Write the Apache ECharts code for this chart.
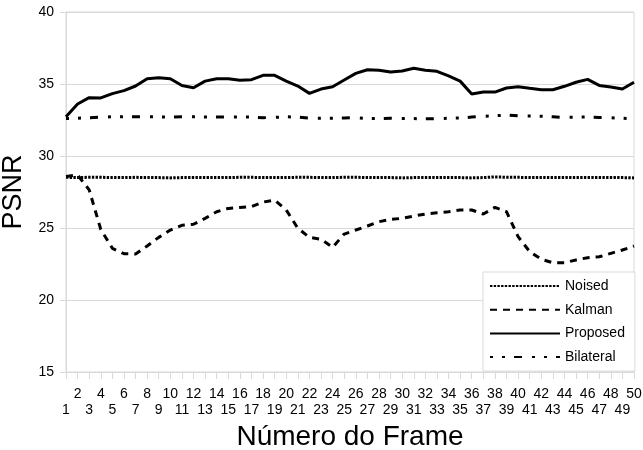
<!DOCTYPE html>
<html>
<head>
<meta charset="utf-8">
<script src="https://cdn.jsdelivr.net/npm/echarts@6/dist/echarts.min.js"></script>
<style>
  html, body { margin: 0; padding: 0; background: #fff; }
  #chart { width: 643px; height: 450px; }
</style>
</head>
<body>
<div id="chart"></div>
<script>
// Frame numbers along the x axis
const frames = ['1','2','3','4','5','6','7','8','9','10','11','12','13','14','15','16','17','18','19','20',
  '21','22','23','24','25','26','27','28','29','30','31','32','33','34','35','36','37','38','39','40',
  '41','42','43','44','45','46','47','48','49','50'];

// PSNR per frame for each method
const noised = [28.52, 28.5, 28.52, 28.52, 28.5, 28.5, 28.52, 28.5, 28.5, 28.48,
  28.5, 28.5, 28.5, 28.5, 28.5, 28.52, 28.52, 28.5, 28.5, 28.5,
  28.52, 28.52, 28.5, 28.5, 28.52, 28.52, 28.5, 28.5, 28.5, 28.48,
  28.5, 28.5, 28.5, 28.5, 28.5, 28.48, 28.5, 28.55, 28.52, 28.52,
  28.5, 28.5, 28.5, 28.5, 28.5, 28.5, 28.5, 28.5, 28.5, 28.48];

const kalman = [28.58, 28.68, 27.65, 24.9, 23.59, 23.22, 23.19, 23.75, 24.35, 24.86,
  25.19, 25.26, 25.67, 26.13, 26.36, 26.43, 26.48, 26.8, 26.94, 26.25,
  24.98, 24.35, 24.22, 23.66, 24.58, 24.86, 25.14, 25.44, 25.6, 25.67,
  25.83, 25.97, 26.06, 26.13, 26.25, 26.25, 25.97, 26.43, 26.13, 24.4,
  23.36, 22.83, 22.59, 22.59, 22.78, 22.94, 23.0, 23.24, 23.47, 23.75];

const proposed = [32.73, 33.61, 34.05, 34.03, 34.33, 34.54, 34.86, 35.37, 35.44, 35.37,
  34.9, 34.74, 35.2, 35.37, 35.37, 35.26, 35.3, 35.6, 35.6, 35.2,
  34.86, 34.35, 34.65, 34.81, 35.28, 35.74, 35.99, 35.95, 35.83, 35.9,
  36.09, 35.95, 35.88, 35.56, 35.2, 34.31, 34.44, 34.44, 34.72, 34.81,
  34.7, 34.6, 34.6, 34.84, 35.12, 35.32, 34.9, 34.79, 34.65, 35.12];

const bilateral = [32.6, 32.62, 32.66, 32.7, 32.72, 32.72, 32.72, 32.72, 32.72, 32.7,
  32.72, 32.72, 32.7, 32.7, 32.7, 32.72, 32.7, 32.66, 32.68, 32.72,
  32.7, 32.62, 32.62, 32.62, 32.64, 32.66, 32.6, 32.6, 32.62, 32.6,
  32.6, 32.58, 32.6, 32.62, 32.64, 32.7, 32.76, 32.8, 32.84, 32.8,
  32.78, 32.76, 32.72, 32.68, 32.7, 32.7, 32.68, 32.66, 32.62, 32.58];

const FONT = '"Liberation Sans", Arial, sans-serif';
const GRID_GRAY = '#d9d9d9';

const chart = echarts.init(document.getElementById('chart'), null, { renderer: 'canvas' });

function lineSeries(name, data, dash) {
  return {
    name: name,
    type: 'line',
    data: data,
    symbol: 'none',
    showSymbol: false,
    smooth: false,
    animation: false,
    lineStyle: { color: '#000', width: 3, type: dash, cap: 'butt' },
    itemStyle: { color: '#000' }
  };
}

chart.setOption({
  animation: false,
  backgroundColor: '#fff',
  textStyle: { fontFamily: FONT },
  grid: {
    left: 66, right: 9, top: 12, bottom: 78,
    outerBoundsMode: 'none',
    containLabel: false,
    show: true, borderColor: GRID_GRAY, borderWidth: 1, backgroundColor: 'transparent'
  },
  legend: {
    orient: 'vertical',
    left: 483, top: 272,
    width: 151,
    padding: [7, 10, 7, 6],
    itemWidth: 70, itemHeight: 14, itemGap: 9.7,
    backgroundColor: '#fff',
    borderColor: GRID_GRAY, borderWidth: 1,
    itemStyle: { opacity: 0 },
    textStyle: { fontFamily: FONT, fontSize: 14, color: '#000', padding: [0, 0, 0, 0] },
    data: ['Noised', 'Kalman', 'Proposed', 'Bilateral']
  },
  xAxis: {
    type: 'category',
    data: frames,
    boundaryGap: false,
    name: 'Número do Frame',
    nameLocation: 'middle',
    nameGap: 51,
    nameTextStyle: { fontFamily: FONT, fontSize: 28, color: '#000' },
    axisLine: { show: true, lineStyle: { color: GRID_GRAY, width: 1 } },
    axisTick: { show: true, interval: 0, length: 7, lineStyle: { color: GRID_GRAY } },
    axisLabel: {
      interval: 0,
      margin: 14,
      fontFamily: FONT, fontSize: 14, color: '#000',
      lineHeight: 16,
      formatter: function (v, i) { return i % 2 === 1 ? v : '\n' + v; }
    },
    splitLine: { show: false }
  },
  yAxis: {
    type: 'value',
    min: 15, max: 40, interval: 5,
    name: 'PSNR',
    nameLocation: 'middle',
    nameGap: 25,
    nameRotate: 90,
    nameTextStyle: { fontFamily: FONT, fontSize: 27, color: '#000' },
    axisLine: { show: true, lineStyle: { color: GRID_GRAY, width: 1 } },
    axisTick: { show: true, length: 6, lineStyle: { color: GRID_GRAY } },
    axisLabel: { margin: 12, fontFamily: FONT, fontSize: 14, color: '#000' },
    splitLine: { show: true, lineStyle: { color: GRID_GRAY, width: 1 } }
  },
  series: [
    lineSeries('Noised', noised, [2.4, 1.3]),
    lineSeries('Kalman', kalman, [7, 6]),
    lineSeries('Proposed', proposed, 'solid'),
    lineSeries('Bilateral', bilateral, [3, 9, 3, 9, 8, 10])
  ]
});
</script>
</body>
</html>
